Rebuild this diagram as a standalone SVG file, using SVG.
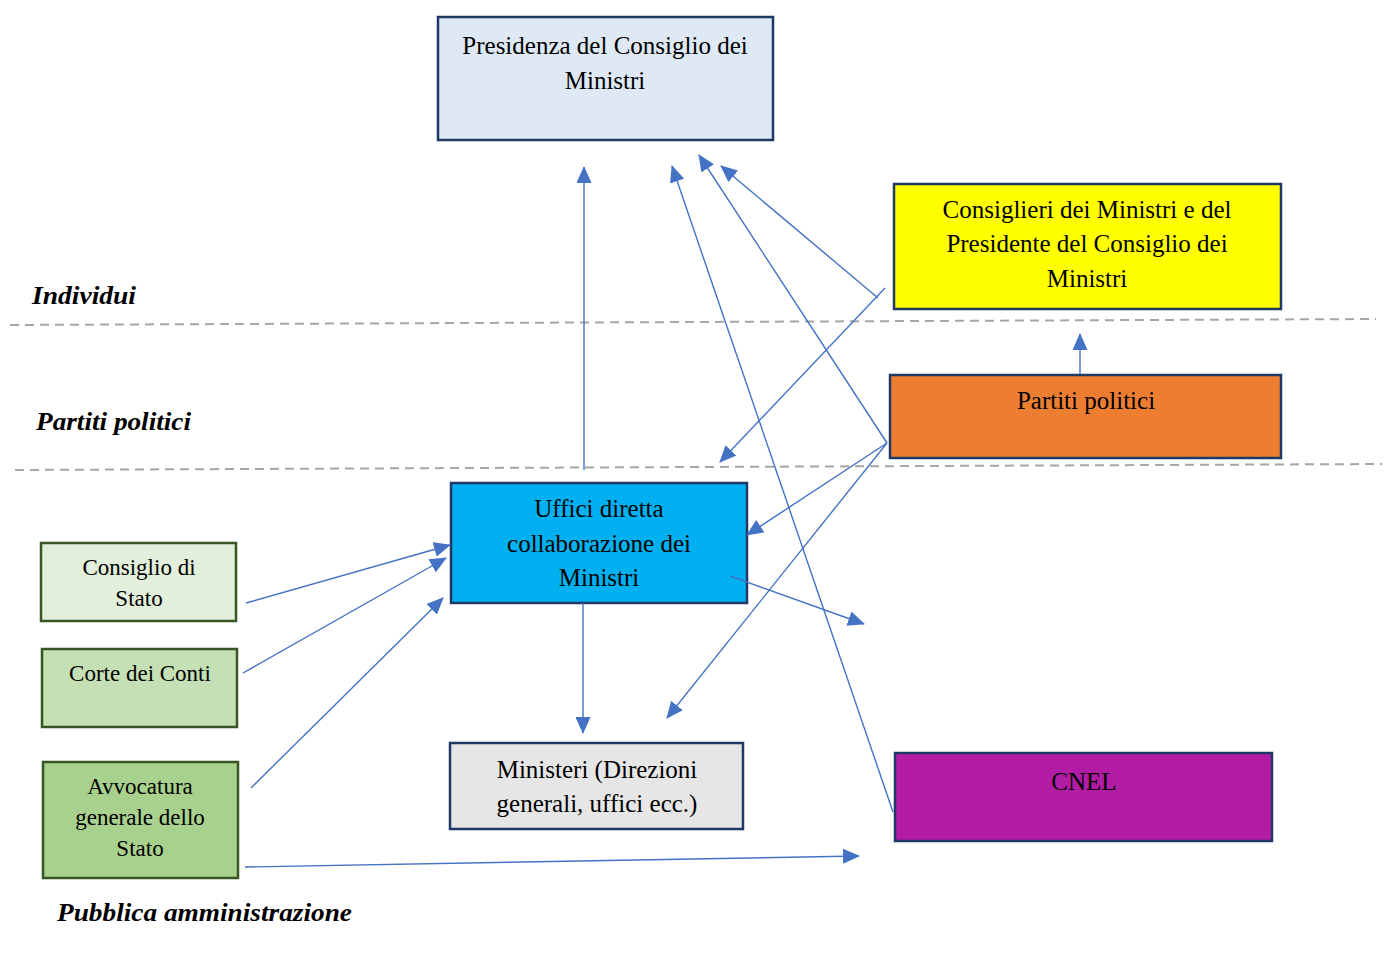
<svg xmlns="http://www.w3.org/2000/svg" width="1386" height="956" viewBox="0 0 1386 956">
<defs>
<style>
.box{stroke:#1f3864;stroke-width:2.5}
.gbox{stroke:#375623;stroke-width:2.5}
.t{font-family:"Liberation Serif","Times New Roman",serif;font-size:25px;fill:#000;text-anchor:middle}
.ts{font-family:"Liberation Serif","Times New Roman",serif;font-size:23px;fill:#000;text-anchor:middle}
.lab{font-family:"Liberation Serif","Times New Roman",serif;font-size:25px;font-weight:bold;font-style:italic;fill:#000}
.c{stroke:#4472c4;stroke-width:1.4;fill:none;marker-end:url(#ah)}
.dash{stroke:#a6a6a6;stroke-width:2;stroke-dasharray:9 6;fill:none}
</style>
<marker id="ah" markerUnits="userSpaceOnUse" markerWidth="17" markerHeight="15" refX="16" refY="7.5" orient="auto">
<path d="M0,0 L17,7.5 L0,15 Z" fill="#4472c4"/>
</marker>
</defs>
<rect width="1386" height="956" fill="#fff"/>
<g id="dividers">
<line class="dash" x1="10" y1="325" x2="1376" y2="319"/>
<line class="dash" x1="15" y1="470" x2="1382" y2="464"/>
</g>
<g id="labels">
<text class="lab" x="32" y="304" textLength="104" lengthAdjust="spacingAndGlyphs">Individui</text>
<text class="lab" x="36" y="430" textLength="155" lengthAdjust="spacingAndGlyphs">Partiti politici</text>
<text class="lab" x="57" y="921" textLength="295" lengthAdjust="spacingAndGlyphs">Pubblica amministrazione</text>
</g>
<g id="presidenza">
<rect class="box" x="438" y="17" width="335" height="123" fill="#dee9f5"/>
<text class="t" x="605" y="54">Presidenza del Consiglio dei</text>
<text class="t" x="605" y="89">Ministri</text>
</g>
<g id="consiglieri">
<rect class="box" x="894" y="184" width="387" height="125" fill="#ffff00"/>
<text class="t" x="1087" y="218">Consiglieri dei Ministri e del</text>
<text class="t" x="1087" y="252">Presidente del Consiglio dei</text>
<text class="t" x="1087" y="287">Ministri</text>
</g>
<g id="partiti">
<rect class="box" x="890" y="375" width="391" height="83" fill="#ed7d31"/>
<text class="t" x="1086" y="409">Partiti politici</text>
</g>
<g id="uffici">
<rect class="box" x="451" y="483" width="296" height="120" fill="#00b0f0"/>
<text class="t" x="599" y="517">Uffici diretta</text>
<text class="t" x="599" y="552">collaborazione dei</text>
<text class="t" x="599" y="586">Ministri</text>
</g>
<g id="consiglio-stato">
<rect class="gbox" x="41" y="543" width="195" height="78" fill="#e2efda"/>
<text class="ts" x="139" y="575">Consiglio di</text>
<text class="ts" x="139" y="606">Stato</text>
</g>
<g id="corte-conti">
<rect class="gbox" x="42" y="649" width="195" height="78" fill="#c5e0b4"/>
<text class="ts" x="140" y="681">Corte dei Conti</text>
</g>
<g id="avvocatura">
<rect class="gbox" x="43" y="762" width="195" height="116" fill="#a9d18e"/>
<text class="ts" x="140" y="794">Avvocatura</text>
<text class="ts" x="140" y="825">generale dello</text>
<text class="ts" x="140" y="856">Stato</text>
</g>
<g id="ministeri">
<rect class="box" x="450" y="743" width="293" height="86" fill="#e7e6e6"/>
<text class="t" x="597" y="778">Ministeri (Direzioni</text>
<text class="t" x="597" y="812">generali, uffici ecc.)</text>
</g>
<g id="cnel">
<rect class="box" x="895" y="753" width="377" height="88" fill="#b21ca5"/>
<text class="t" x="1084" y="790">CNEL</text>
</g>
<g id="connectors">
<line class="c" x1="584" y1="470" x2="584" y2="167"/>
<line class="c" x1="893" y1="812" x2="672" y2="166"/>
<line class="c" x1="887" y1="443" x2="699" y2="155"/>
<line class="c" x1="878" y1="298" x2="721" y2="166"/>
<line class="c" x1="885" y1="288" x2="720" y2="462"/>
<line class="c" x1="887" y1="443" x2="747" y2="535"/>
<line class="c" x1="887" y1="443" x2="667" y2="718"/>
<line class="c" x1="730" y1="576" x2="864" y2="624"/>
<line class="c" x1="583" y1="603" x2="583" y2="733"/>
<line class="c" x1="1080" y1="374" x2="1080" y2="334"/>
<line class="c" x1="246" y1="603" x2="450" y2="545"/>
<line class="c" x1="243" y1="673" x2="446" y2="558"/>
<line class="c" x1="251" y1="788" x2="443" y2="598"/>
<line class="c" x1="245" y1="867" x2="859" y2="856"/>
</g>
</svg>
